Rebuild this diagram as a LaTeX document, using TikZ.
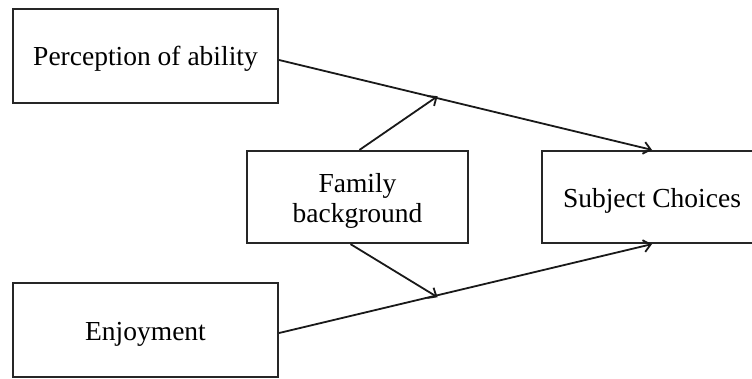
\documentclass[tikz,border=0pt]{standalone}
\usepackage{fontspec}
\setmainfont{Liberation Serif}
\usetikzlibrary{arrows.meta,calc}
\tikzset{
  box/.style={draw=black!85, line width=2.2pt, rectangle, inner sep=0pt, anchor=center,
    font=\fontsize{27.5}{30}\selectfont, align=center, text height=26pt, text depth=6pt},
  link/.style={draw=black!90, line width=1.8pt, -{Straight Barb[length=7pt,width=12pt,line width=1.8pt]}}
}
\begin{document}
\begin{tikzpicture}[x=1pt,y=-1pt]
\useasboundingbox (0,0) rectangle (752,378);
\clip (0,0) rectangle (752,378);
\node[box, minimum width=265pt, minimum height=94pt, text height=24pt] (perc) at (145.5,56) {Perception of ability};
\node[box, minimum width=221pt, minimum height=92pt, text height=56pt] (fam) at (357.5,197) {Family\\background};
\node[box, minimum width=220pt, minimum height=92pt] (subj) at (652,197) {Subject Choices};
\node[box, minimum width=265pt, minimum height=94pt] (enj) at (145.5,330) {Enjoyment};
\coordinate (p1) at ([yshift=-4pt]perc.east);
\coordinate (e1) at ([yshift=-3pt]enj.east);
\coordinate (m1) at ($(p1)!0.425!(subj.north)$);
\coordinate (m2) at ($(e1)!0.425!(subj.south)$);
\draw[link] (p1) -- (subj.north);
\draw[link] (e1) -- (subj.south);
\draw[link] ([xshift=2pt]fam.north) -- ([yshift=2pt]m1);
\draw[link] ([xshift=-7pt]fam.south) -- ([yshift=-2pt]m2);
\end{tikzpicture}
\end{document}
